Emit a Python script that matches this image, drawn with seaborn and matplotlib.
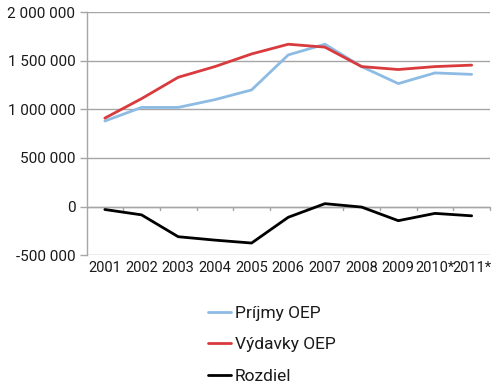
import matplotlib
matplotlib.use("Agg")
import matplotlib.pyplot as plt
import matplotlib.ticker as mticker
import seaborn as sns
import pandas as pd

years = ["2001", "2002", "2003", "2004", "2005", "2006", "2007", "2008", "2009", "2010*", "2011*"]
prijmy = [880000, 1020000, 1020000, 1100000, 1200000, 1560000, 1670000, 1440000, 1265000, 1375000, 1360000]
vydavky = [910000, 1110000, 1330000, 1440000, 1570000, 1670000, 1640000, 1440000, 1410000, 1440000, 1455000]
rozdiel = [-30000, -85000, -310000, -345000, -375000, -110000, 30000, -5000, -145000, -70000, -95000]
series_names = ["Príjmy OEP", "Výdavky OEP", "Rozdiel"]
colors = ["#8DBBE3", "#D93A3D", "#000000"]

df = pd.DataFrame({
    "year": years * 3,
    "value": prijmy + vydavky + rozdiel,
    "series": [series_names[0]] * len(years) + [series_names[1]] * len(years) + [series_names[2]] * len(years),
})

sns.set_theme(style="white")
plt.rcParams['font.family'] = ['Roboto', 'DejaVu Sans']

fig = plt.figure(figsize=(5.0, 3.92), dpi=100)
ax = fig.add_axes([0.173, 0.349, 0.807, 0.62])

sns.lineplot(data=df, x="year", y="value", hue="series", palette=colors,
             hue_order=series_names, linewidth=2.0, ax=ax, legend=True, sort=False)

ax.set_xlim(-0.5, len(years) - 0.5)
ax.set_ylim(-500000, 2000000)
ax.yaxis.set_major_locator(mticker.MultipleLocator(500000))
ax.yaxis.set_major_formatter(mticker.FuncFormatter(lambda v, p: f"{int(v):,}".replace(",", " ")))
ax.grid(axis="y", color="#A6A6A6", linewidth=1.0)
ax.set_axisbelow(True)
for s in ["top", "right", "bottom"]:
    ax.spines[s].set_visible(False)
ax.spines["left"].set_color("#A6A6A6")
ax.spines["left"].set_linewidth(1.0)
ax.axhline(0, color="#A6A6A6", linewidth=1.0, zorder=0)

ax.set_xticks(range(len(years)))
ax.set_xticklabels(years)
ax.tick_params(axis="x", length=0, labelsize=10.5, pad=4, colors="#1a1a1a")
ax.tick_params(axis="y", length=5, width=1.0, color="#A6A6A6", labelsize=11, pad=3, labelcolor="#1a1a1a", left=True)
for b in range(1, len(years) + 1):
    ax.plot([b - 0.5, b - 0.5], [0, -40000], color="#A6A6A6", linewidth=1.0, zorder=0, clip_on=False)

ax.set_xlabel("")
ax.set_ylabel("")

handles, labels = ax.get_legend_handles_labels()
ax.get_legend().remove()
fig.legend(handles, labels, loc="upper left", bbox_to_anchor=(0.402, 0.238),
           frameon=False, fontsize=12.5, handlelength=1.35, handletextpad=0.2,
           labelspacing=0.95, borderaxespad=0, labelcolor="#1a1a1a")

fig.savefig("out.png", dpi=100)
